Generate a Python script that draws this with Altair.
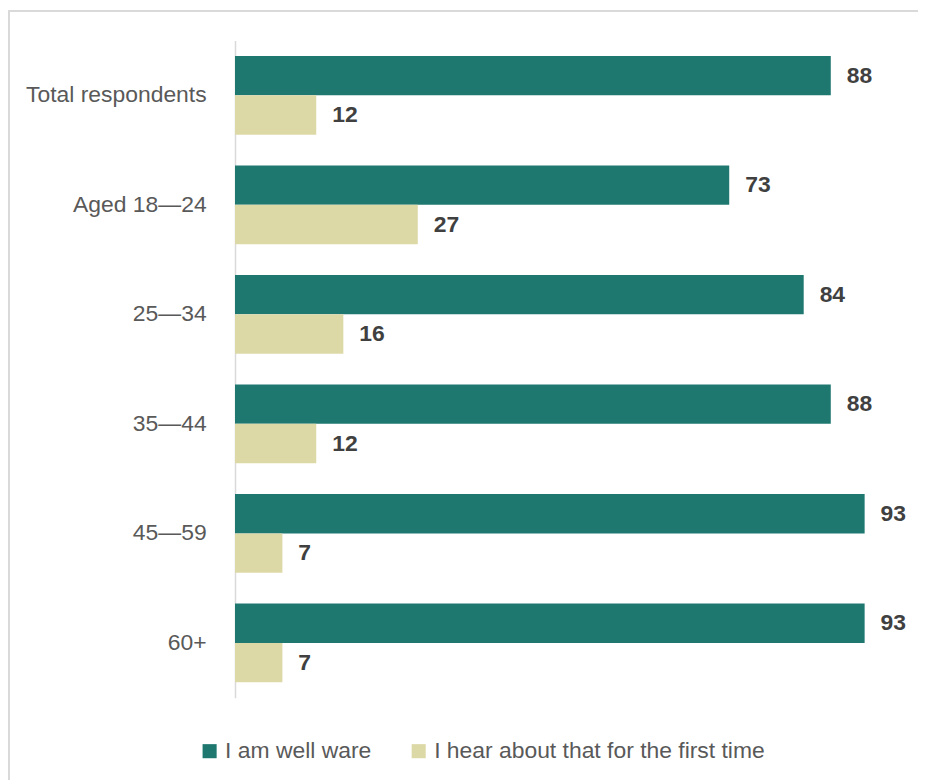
import altair as alt
import pandas as pd

categories = ["Total respondents", "Aged 18\u201424", "25\u201434", "35\u201444", "45\u201459", "60+"]
series_names = ["I am well ware", "I hear about that for the first time"]
well_aware = [88, 73, 84, 88, 93, 93]
first_time = [12, 27, 16, 12, 7, 7]
colors = ["#1f7870", "#ddd9a7"]

rows = []
for c, a, f in zip(categories, well_aware, first_time):
    rows.append({"category": c, "series": series_names[0], "value": a})
    rows.append({"category": c, "series": series_names[1], "value": f})
df = pd.DataFrame(rows)

W, H = 680, 660
FONT = "Liberation Sans"

y_enc = alt.Y("category:N", sort=categories,
              scale=alt.Scale(paddingInner=0.28, paddingOuter=0.14),
              axis=alt.Axis(title=None, ticks=False, domain=True, domainColor="#d9d9d9",
                            domainWidth=1.5, labelFontSize=23, labelColor="#595959",
                            labelFont=FONT, labelPadding=29, grid=False, labelLimit=300))
yoff = alt.YOffset("series:N", sort=series_names)
x_enc = alt.X("value:Q", scale=alt.Scale(domain=[0, 100]), axis=None)

base = alt.Chart(df)

bars = base.mark_bar().encode(
    y=y_enc, yOffset=yoff, x=x_enc,
    color=alt.Color("series:N", sort=series_names,
                    scale=alt.Scale(domain=series_names, range=colors),
                    legend=alt.Legend(title=None, orient="none", direction="horizontal",
                                      legendX=-37, legendY=702, symbolType="square",
                                      symbolSize=200, symbolStrokeWidth=0,
                                      labelFontSize=23, labelColor="#595959", labelFont=FONT,
                                      columnPadding=36, labelOffset=4, labelLimit=400)),
)

labels = base.mark_text(align="left", baseline="middle", dx=16, fontSize=23,
                        fontWeight="bold", color="#404040", font=FONT).encode(
    y=alt.Y("category:N", sort=categories), yOffset=yoff, x=x_enc,
    text=alt.Text("value:Q"),
)

frame_top = base.mark_rule(color="#d9d9d9", strokeWidth=1.5).encode(
    x=alt.value(-227), x2=alt.value(720), y=alt.value(-30))
frame_left = base.mark_rule(color="#d9d9d9", strokeWidth=1.5).encode(
    x=alt.value(-227), y=alt.value(-30), y2=alt.value(760))

chart = alt.layer(frame_top, frame_left, bars, labels).properties(
    width=W, height=H,
    autosize=alt.AutoSizeParams(type="none"),
    padding={"left": 228, "top": 31, "right": 6, "bottom": 81},
    background="white",
).configure_view(stroke=None)

chart.save("out.html", embed_options={"renderer": "svg", "actions": False})
